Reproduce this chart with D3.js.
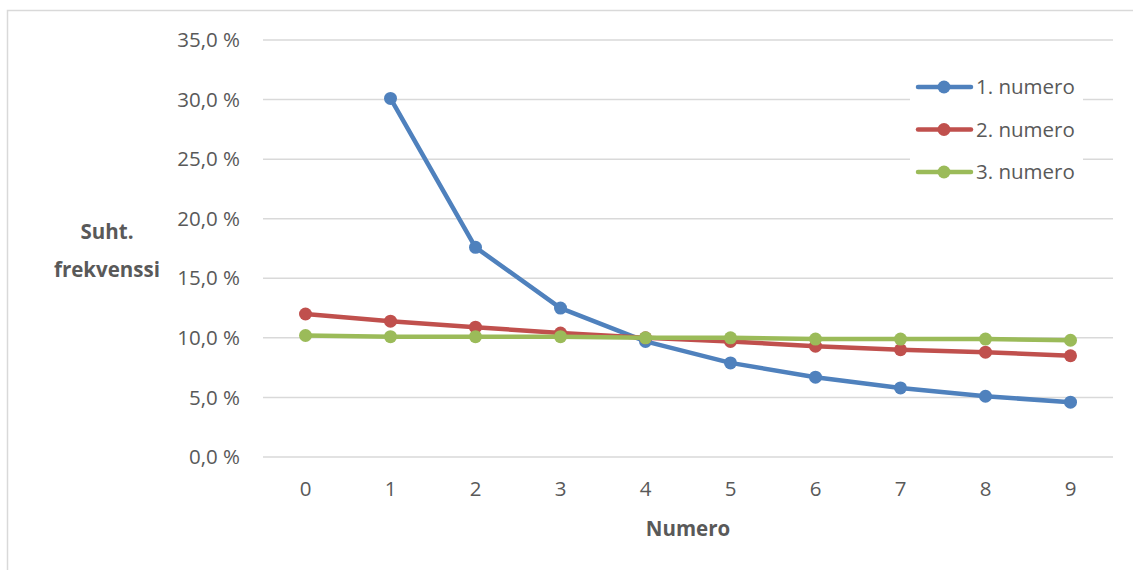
<!DOCTYPE html>
<html><head><meta charset="utf-8">
<script src="https://cdnjs.cloudflare.com/ajax/libs/d3/7.8.5/d3.min.js"></script>
<style>body{margin:0;background:#fff}svg{display:block}</style>
</head><body><svg id="c" width="1133" height="570"></svg>
<script>
const categories = ["0","1","2","3","4","5","6","7","8","9"];
const series1 = [null,30.1,17.6,12.5,9.7,7.9,6.7,5.8,5.1,4.6];
const series2 = [12.0,11.4,10.9,10.4,10.0,9.7,9.3,9.0,8.8,8.5];
const series3 = [10.2,10.1,10.1,10.1,10.0,10.0,9.9,9.9,9.9,9.8];
const seriesNames = ["1. numero","2. numero","3. numero"];
const yTicks = [0,5,10,15,20,25,30,35];
const colors = ["#4f81bd","#c0504d","#9bbb59"];
const font = "'Open Sans', 'Noto Sans', sans-serif";

const svg = d3.select("#c");
svg.append("rect").attr("x",7.5).attr("y",10.5).attr("width",1140).attr("height",600)
  .attr("fill","#fff").attr("stroke","#d9d9d9").attr("stroke-width",1.5);

const x = d3.scaleBand().domain(categories).range([263,1113]);
const y = d3.scaleLinear().domain([0,35]).range([457,40]);

const g = svg.append("g");
g.selectAll("line.grid").data(yTicks).join("line")
  .attr("x1",263).attr("x2",1113).attr("y1",d=>y(d)).attr("y2",d=>y(d))
  .attr("stroke","#d9d9d9").attr("stroke-width",1.5);

g.selectAll("text.yt").data(yTicks).join("text")
  .attr("x",240).attr("y",d=>y(d)).attr("dy","0.35em").attr("text-anchor","end")
  .attr("font-family",font).attr("font-size",20.5).attr("fill","#595959")
  .text(d=>d.toFixed(1).replace(".",",")+" %");

g.selectAll("text.xt").data(categories).join("text")
  .attr("x",d=>x(d)+x.bandwidth()/2).attr("y",496).attr("text-anchor","middle")
  .attr("font-family",font).attr("font-size",20.5).attr("fill","#595959").text(d=>d);

svg.append("text").attr("x",688).attr("y",536).attr("text-anchor","middle")
  .attr("font-family",font).attr("font-size",20.5).attr("font-weight","bold").attr("fill","#595959").text("Numero");
const yt = svg.append("text").attr("text-anchor","middle")
  .attr("font-family",font).attr("font-size",20.5).attr("font-weight","bold").attr("fill","#595959");
yt.append("tspan").attr("x",107).attr("y",239).text("Suht.");
yt.append("tspan").attr("x",107).attr("y",277).text("frekvenssi");

const allSeries = [series1,series2,series3];
const line = d3.line().defined(d=>d.v!=null).x(d=>x(d.c)+x.bandwidth()/2).y(d=>y(d.v));
allSeries.forEach((s,i)=>{
  const pts = categories.map((c,j)=>({c,v:s[j]}));
  g.append("path").datum(pts).attr("d",line).attr("fill","none")
    .attr("stroke",colors[i]).attr("stroke-width",4.5).attr("stroke-linejoin","round").attr("stroke-linecap","round");
  g.selectAll(null).data(pts.filter(d=>d.v!=null)).join("circle")
    .attr("cx",d=>x(d.c)+x.bandwidth()/2).attr("cy",d=>y(d.v)).attr("r",6.5).attr("fill",colors[i]);
});

// legend
const lg = svg.append("g");
lg.append("rect").attr("x",910).attr("y",68).attr("width",173).attr("height",125).attr("fill","#fff");
seriesNames.forEach((n,i)=>{
  const yy = 87 + i*42.5;
  lg.append("line").attr("x1",918).attr("x2",971).attr("y1",yy).attr("y2",yy)
    .attr("stroke",colors[i]).attr("stroke-width",4.5).attr("stroke-linecap","round");
  lg.append("circle").attr("cx",944).attr("cy",yy).attr("r",6.5).attr("fill",colors[i]);
  lg.append("text").attr("x",976).attr("y",yy).attr("dy","0.35em")
    .attr("font-family",font).attr("font-size",20.5).attr("fill","#595959").text(n);
});
</script></body></html>
